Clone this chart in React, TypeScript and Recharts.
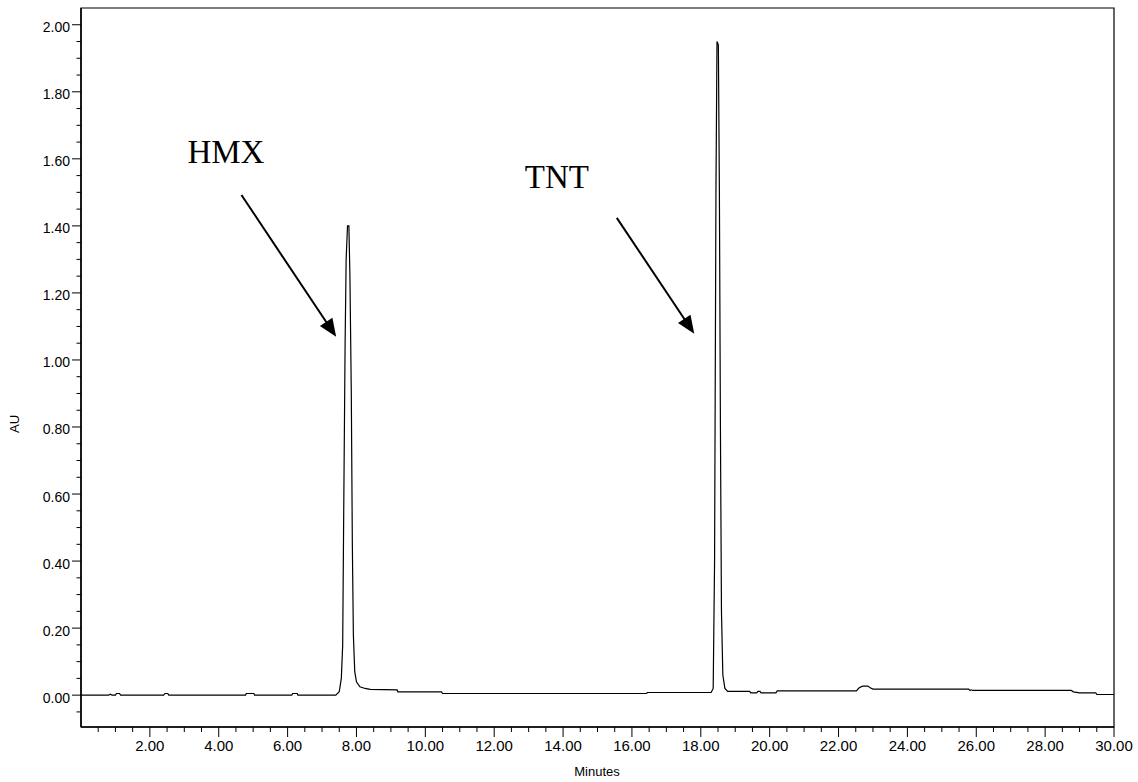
import {
  Customized,
  Line,
  LineChart,
  ReferenceArea,
  ReferenceDot,
  ReferenceLine,
  XAxis,
  YAxis,
} from 'recharts'

// retention time (min) and detector response (AU)
const TIME_MIN = [
  0.0, 0.8, 0.85, 0.9, 1.0, 1.03, 1.12, 1.15, 2.4, 2.44, 2.52, 2.55,
  4.78, 4.8, 5.02, 5.04, 6.12, 6.15, 6.28, 6.3,
  7.4, 7.5, 7.56, 7.6, 7.63, 7.67, 7.7, 7.74, 7.78, 7.81, 7.85, 7.88, 7.91, 7.95,
  8.0, 8.1, 8.25, 8.4, 9.18, 9.2, 10.47, 10.5, 16.42, 16.45,
  18.3, 18.36, 18.4, 18.44, 18.47, 18.51, 18.54, 18.57, 18.6, 18.64, 18.7, 18.78,
  19.42, 19.45, 19.62, 19.66, 19.72, 19.75, 20.18, 20.22,
  22.52, 22.6, 22.7, 22.85, 22.92, 23.0, 25.78, 25.82, 25.86, 25.9,
  28.76, 28.82, 29.0, 29.47, 29.5, 30.0,
]
const ABSORBANCE_AU = [
  0.0, 0.0, 0.003, 0.0, 0.0, 0.005, 0.005, 0.0, 0.0, 0.005, 0.005, 0.0,
  0.0, 0.005, 0.005, 0.0, 0.0, 0.005, 0.005, 0.0,
  0.0, 0.01, 0.05, 0.15, 0.55, 1.05, 1.3, 1.4, 1.4, 1.25, 0.9, 0.45, 0.18, 0.07,
  0.04, 0.025, 0.02, 0.017, 0.016, 0.01, 0.01, 0.005, 0.005, 0.008,
  0.008, 0.02, 0.4, 1.5, 1.95, 1.94, 1.5, 0.8, 0.25, 0.06, 0.02, 0.011,
  0.011, 0.007, 0.007, 0.011, 0.011, 0.007, 0.007, 0.013,
  0.013, 0.022, 0.027, 0.027, 0.022, 0.018, 0.018, 0.014, 0.016, 0.014,
  0.014, 0.01, 0.007, 0.007, 0.002, 0.002,
]

const X_LABELS = [2, 4, 6, 8, 10, 12, 14, 16, 18, 20, 22, 24, 26, 28, 30]
const Y_LABELS = [0, 0.2, 0.4, 0.6, 0.8, 1.0, 1.2, 1.4, 1.6, 1.8, 2.0]

// peak annotations (text anchor and arrow, in data units)
const PEAK_NAMES = ['HMX', 'TNT']
const NAME_AT = [[3.09, 1.587], [12.89, 1.513]]
const ARROW_FROM = [[4.66, 1.492], [15.56, 1.424]]
const ARROW_TO = [[7.41, 1.069], [17.81, 1.078]]

const data = TIME_MIN.map((t, i) => ({ t, au: ABSORBANCE_AU[i] }))

const xTicks = Array.from({ length: 60 }, (_, i) => (i + 1) * 0.5)
const yTicks = Array.from({ length: 42 }, (_, i) => Math.round((i - 1) * 5) / 100)

const SANS = 'Arial, "Liberation Sans", sans-serif'
const SERIF = '"Times New Roman", "Liberation Serif", serif'

const isLabel = (v: number, labels: number[]) => labels.some((l) => Math.abs(l - v) < 1e-6)

function XTick({ x, y, payload }: any) {
  const v = payload.value as number
  const major = isLabel(v, X_LABELS)
  return (
    <g>
      <line x1={x} x2={x} y1={y} y2={y + (major ? 10 : 5)} stroke="#000" strokeWidth={1} />
      {major && (
        <text x={x} y={y + 24} textAnchor="middle" fontSize={15} fontFamily={SANS} fill="#000">
          {v.toFixed(2)}
        </text>
      )}
    </g>
  )
}

function YTick({ x, y, payload }: any) {
  const v = payload.value as number
  const major = isLabel(v, Y_LABELS)
  return (
    <g>
      <line x1={x} x2={x - (major ? 9 : 4.5)} y1={y} y2={y} stroke="#000" strokeWidth={1} />
      {major && (
        <text x={x - 11} y={y + 7.5} textAnchor="end" fontSize={14} fontFamily={SANS} fill="#000">
          {v.toFixed(2)}
        </text>
      )}
    </g>
  )
}

function Arrow({ x1, y1, x2, y2 }: any) {
  const dx = x2 - x1
  const dy = y2 - y1
  const len = Math.hypot(dx, dy)
  const ux = dx / len
  const uy = dy / len
  const head = 18
  const half = 7.5
  const bx = x2 - ux * head
  const by = y2 - uy * head
  const pts = `${x2},${y2} ${bx - uy * half},${by + ux * half} ${bx + uy * half},${by - ux * half}`
  return (
    <g>
      <line x1={x1} y1={y1} x2={bx + ux * 2} y2={by + uy * 2} stroke="#000" strokeWidth={2} />
      <polygon points={pts} fill="#000" />
    </g>
  )
}

function AxisTitles() {
  return (
    <g fontFamily={SANS} fontSize={13} fill="#000">
      <text x={597} y={776} textAnchor="middle">Minutes</text>
      <text x={19} y={424} textAnchor="middle" transform="rotate(-90 19 424)">AU</text>
    </g>
  )
}

export default function App() {
  return (
    <div style={{ position: 'absolute', left: 0, top: 0, background: '#fff' }}>
      <LineChart
        width={1138}
        height={782}
        data={data}
        margin={{ top: 8, right: 24, left: 0, bottom: 0 }}
      >
        <XAxis
          dataKey="t"
          type="number"
          domain={[0, 30]}
          ticks={xTicks}
          interval={0}
          tickSize={0}
          tickMargin={0}
          tick={<XTick />}
          height={55}
          axisLine={{ stroke: '#000', strokeWidth: 1.5 }}
          allowDataOverflow
        />
        <YAxis
          type="number"
          domain={[-0.095, 2.05]}
          ticks={yTicks}
          interval={0}
          tickSize={0}
          tickMargin={0}
          tick={<YTick />}
          width={81}
          axisLine={{ stroke: '#000', strokeWidth: 1.5 }}
          allowDataOverflow
        />
        <ReferenceArea
          x1={0}
          x2={30}
          y1={-0.095}
          y2={2.05}
          fill="none"
          fillOpacity={0}
          stroke="#000"
          strokeWidth={1.2}
          ifOverflow="visible"
        />
        <Line
          type="linear"
          dataKey="au"
          stroke="#000"
          strokeWidth={1.2}
          dot={false}
          activeDot={false}
          isAnimationActive={false}
        />
        {PEAK_NAMES.map((name, i) => (
          <ReferenceLine
            key={`arrow-${name}`}
            segment={[
              { x: ARROW_FROM[i][0], y: ARROW_FROM[i][1] },
              { x: ARROW_TO[i][0], y: ARROW_TO[i][1] },
            ]}
            shape={(p: any) => <Arrow {...p} />}
            ifOverflow="visible"
          />
        ))}
        {PEAK_NAMES.map((name, i) => (
          <ReferenceDot
            key={`name-${name}`}
            x={NAME_AT[i][0]}
            y={NAME_AT[i][1]}
            r={0}
            ifOverflow="visible"
            shape={(p: any) => (
              <text x={p.cx} y={p.cy} fontSize={33} fontFamily={SERIF} fill="#000">
                {name}
              </text>
            )}
          />
        ))}
        <Customized component={<AxisTitles />} />
      </LineChart>
    </div>
  )
}
